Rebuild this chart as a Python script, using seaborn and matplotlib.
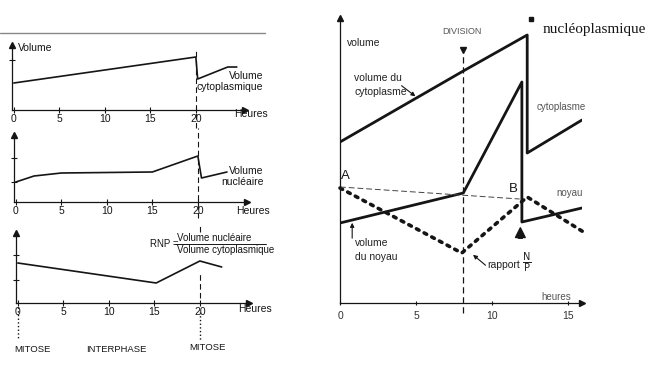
import numpy as np
import pandas as pd
import matplotlib.pyplot as plt
import seaborn as sns

# ---- data (hours, volume in arbitrary units) ----
# left: three stacked panels
h_cyto = [0, 20, 20.2, 23.5, 24.5]
v_cyto = [27, 53, 31, 43, 43]

h_nuc = [0, 2, 5, 15, 20, 20.4, 23.2]
v_nuc = [20, 26, 29, 30, 46, 24, 30]

h_rnp = [0, 15.2, 20, 22.4]
v_rnp = [40, 20, 42, 36]

left_ticks = [0, 5, 10, 15, 20]

# right: cytoplasm / nucleus / N-P ratio
h_cyto_r = [0, 8.1, 12.3, 12.3, 15.9]
v_cyto_r = [161, 232, 268, 150, 183]

h_nuc_r = [0, 8.1, 11.95, 11.95, 15.9]
v_nuc_r = [80, 110, 221, 81, 95]

h_ratio = [0, 8.0, 12.3, 16.0]
v_ratio = [115, 50, 106, 71]

h_ab = [0, 11.8]
v_ab = [116, 104]

right_ticks = [0, 5, 10, 15]

sns.set_style('white')
plt.rcParams['font.family'] = ['Liberation Sans', 'DejaVu Sans']

W, H = 659, 366
fig = plt.figure(figsize=(W / 100, H / 100), dpi=100)
fig.patch.set_facecolor('white')
ink = '#151515'


def px_axes(left, top, right, bottom):
    return fig.add_axes([left / W, 1 - bottom / H, (right - left) / W, (bottom - top) / H])


def arrow_axes(ax, xticks, yticks):
    for s in ['top', 'right']:
        ax.spines[s].set_visible(False)
    for s in ['left', 'bottom']:
        ax.spines[s].set_color(ink)
        ax.spines[s].set_linewidth(0.9)
    ax.plot(1, 0, '>', color=ink, ms=4, transform=ax.transAxes, clip_on=False)
    ax.plot(0, 1, '^', color=ink, ms=4, transform=ax.transAxes, clip_on=False)
    ax.set_xticks(xticks)
    ax.set_yticks(yticks)
    ax.set_yticklabels([])
    ax.tick_params(direction='inout', length=4, width=0.8, colors=ink,
                   labelsize=7.5, pad=1, bottom=True, left=True)
    ax.set_xlabel('')
    ax.set_ylabel('')
    ax.patch.set_alpha(0)


def draw(ax, h, v, **kw):
    df = pd.DataFrame({'h': h, 'v': v})
    sns.lineplot(data=df, x='h', y='v', ax=ax, sort=False, estimator=None,
                 color=ink, **kw)


# frame line at the top of the left figure
fig.add_artist(plt.Line2D([0, 265 / W], [1 - 33 / H, 1 - 33 / H], color='#888', lw=1))

# ---------------- left panel 1: cytoplasm ----------------
ax1 = px_axes(12, 45, 245, 110)
draw(ax1, h_cyto, v_cyto, lw=1.2)
ax1.set_xlim(-0.2, 25.4)
ax1.set_ylim(0, 65)
arrow_axes(ax1, left_ticks, [50])
ax1.plot([20, 20], [-18, 62], ls=(0, (5, 3)), color=ink, lw=0.8, clip_on=False)
ax1.text(0.5, 62, 'Volume', fontsize=7.5, color=ink, va='center')
ax1.text(27.4, 28.5, 'Volume\ncytoplasmique', fontsize=7.5, color=ink,
         ha='right', va='center', multialignment='right', linespacing=1.15)
ax1.text(24.2, -4, 'Heures', fontsize=7.5, color=ink, va='center')

# ---------------- left panel 2: nucleus ----------------
ax2 = px_axes(14, 135, 247, 202)
draw(ax2, h_nuc, v_nuc, lw=1.2)
ax2.set_xlim(-0.2, 25.4)
ax2.set_ylim(0, 67)
arrow_axes(ax2, left_ticks, [20, 44])
ax2.plot([20, 20], [-16, 74], ls=(0, (5, 3)), color=ink, lw=0.8, clip_on=False)
ax2.text(27.2, 25.5, 'Volume\nnucléaire', fontsize=7.5, color=ink,
         ha='right', va='center', multialignment='right', linespacing=1.15)
ax2.text(24.2, -9, 'Heures', fontsize=7.5, color=ink, va='center')

# ---------------- left panel 3: RNP ----------------
ax3 = px_axes(16, 233, 249, 303)
draw(ax3, h_rnp, v_rnp, lw=1.2)
ax3.set_xlim(-0.2, 25.4)
ax3.set_ylim(0, 70)
arrow_axes(ax3, left_ticks, [23, 48])
ax3.plot([20, 20], [71, 78], ls=(0, (5, 3)), color=ink, lw=0.8, clip_on=False)
ax3.plot([20, 20], [5, 30], ls=(0, (5, 3)), color=ink, lw=0.8, clip_on=False)
ax3.plot([20, 20], [-9, -37], ls=':', color=ink, lw=1, clip_on=False)
ax3.plot([0, 0], [-4, -37], ls=':', color=ink, lw=1, clip_on=False)
ax3.text(24.2, -6, 'Heures', fontsize=7.5, color=ink, va='center')
ax3.text(14.5, 59.5, 'RNP =', fontsize=7, color=ink, va='center')
ax3.text(17.5, 65.5, 'Volume nucléaire', fontsize=7, color=ink, ha='left', va='center')
ax3.plot([17.3, 27.3], [59.5, 59.5], color=ink, lw=0.7, clip_on=False)
ax3.text(17.5, 53.5, 'Volume cytoplasmique', fontsize=7, color=ink, ha='left', va='center')
ax3.text(-0.4, -47, 'MITOSE', fontsize=6.8, color=ink, va='center')
ax3.text(7.5, -47, 'INTERPHASE', fontsize=6.8, color=ink, va='center')
ax3.text(18.8, -45, 'MITOSE', fontsize=6.8, color=ink, va='center')

# ---------------- right panel ----------------
axr = px_axes(340, 18, 582, 303)
draw(axr, h_cyto_r, v_cyto_r, lw=2.0)
draw(axr, h_nuc_r, v_nuc_r, lw=2.0)
axr.plot(h_ratio, v_ratio, ls=(0, (0.8, 1.6)), color=ink, lw=2.6,
         dash_capstyle='round', clip_on=False)
axr.plot(h_ab, v_ab, ls=(0, (6, 3)), color='#444', lw=0.7)
axr.set_xlim(0, 15.9)
axr.set_ylim(0, 285)
arrow_axes(axr, right_ticks, [])
axr.tick_params(length=3, labelsize=7.5, labelcolor='#333', pad=4)

# division line
axr.plot([8.1, 8.1], [-10, 250], ls=(0, (5, 3)), color=ink, lw=0.9, clip_on=False)
axr.plot(8.1, 253, 'v', color=ink, ms=4)
axr.text(8.0, 271, 'DIVISION', fontsize=6.5, color='#555', ha='center', va='center')

cond = dict(fontsize=7.5, color='#222')
axr.text(0.45, 260, 'volume', va='center', **cond)
axr.text(0.95, 218, 'volume du\ncytoplasme', va='center', linespacing=1.5, **cond)
axr.annotate('', xy=(5.1, 205), xytext=(3.9, 219),
             arrowprops=dict(arrowstyle='-|>', color=ink, lw=0.8, mutation_scale=6))
axr.plot(12.55, 284, 's', color=ink, ms=3, clip_on=False)
axr.text(13.3, 273, 'nucléoplasmique', fontsize=11, color=ink, va='center',
         family='Liberation Serif')
axr.text(12.9, 196, 'cytoplasme', fontsize=7, color='#555', va='center')
axr.text(0.05, 127, 'A', fontsize=9.5, color=ink, va='center')
axr.text(11.4, 114, 'B', fontsize=9.5, color=ink, ha='center', va='center')
axr.text(14.2, 110, 'noyau', fontsize=7, color='#555', va='center')
axr.text(1.0, 53, 'volume\ndu noyau', va='center', linespacing=1.4, **cond)
axr.annotate('', xy=(0.8, 83), xytext=(0.8, 62),
             arrowprops=dict(arrowstyle='-|>', color=ink, lw=0.8, mutation_scale=6))
axr.text(9.7, 38, 'rapport', va='center', **cond)
axr.text(12.25, 40, r'$\frac{\mathrm{N}}{\mathrm{P}}$', fontsize=10, color='#222',
         ha='center', va='center')
axr.annotate('', xy=(8.6, 50), xytext=(9.7, 36),
             arrowprops=dict(arrowstyle='-|>', color=ink, lw=0.8, mutation_scale=6))
axr.annotate('', xy=(11.85, 78), xytext=(11.85, 62),
             arrowprops=dict(arrowstyle='simple', color=ink, mutation_scale=14))
axr.text(13.2, 6, 'heures', fontsize=7, color='#555', va='center')

fig.savefig('out.png', dpi=100, facecolor='white')
